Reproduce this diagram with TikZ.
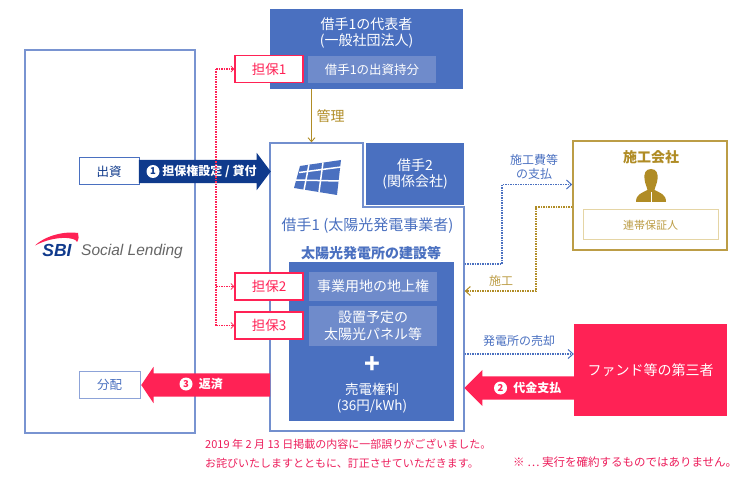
\documentclass[tikz,border=0pt]{standalone}
\usepackage{fontspec}
\setmainfont{Noto Sans CJK JP}
\newfontfamily\logofont{Liberation Sans}
\usepackage{tikz}
\usetikzlibrary{positioning,calc,arrows.meta,shapes.arrows}

\definecolor{bblue}{HTML}{4A70C0}
\definecolor{lblue}{HTML}{6F8BCB}
\definecolor{eblue}{HTML}{8DA3D8}
\definecolor{navy}{HTML}{0F3A8C}
\definecolor{rred}{HTML}{FF2255}
\definecolor{gold}{HTML}{B08C25}
\definecolor{lgold}{HTML}{E5D5A5}

\tikzset{
  fs/.code={\pgfmathsetmacro\fslead{#1*1.2}\tikzset{font=\fontsize{#1}{\fslead}\selectfont}},
  blk/.style={fill=bblue,text=white,inner sep=0pt},
  sub/.style={fill=lblue,text=white,inner sep=0pt,align=center,fs=14,minimum width=128},
  tanpo/.style={draw=rred,line width=1.2,fill=white,text=rred,inner sep=0pt,fs=13.5,minimum width=68,minimum height=27},
  small/.style={draw=bblue,line width=1,fill=white,inner sep=0pt,fs=12.5,minimum width=60,minimum height=27},
  barrow/.style={single arrow,inner xsep=0pt,inner ysep=11.5,anchor=tip},
  num/.style={circle,fill=white,inner sep=0pt,minimum size=13,font=\fontsize{9.5}{10}\selectfont\bfseries},
  lbl/.style={text=white,inner sep=0pt,font=\fontsize{12}{14}\selectfont\bfseries},
  note/.style={inner sep=0pt,anchor=west,text=rred!85!violet,fs=11},
  dotblue/.style={draw=bblue,line width=1.7,dash pattern=on 1.5pt off 1pt,-{Straight Barb[length=5pt,width=9pt,line width=1pt]}},
  dotgold/.style={draw=gold,line width=1.7,dash pattern=on 1.5pt off 1pt,-{Straight Barb[length=5pt,width=9pt,line width=1pt]}},
  dotred/.style={draw=rred,line width=1.2,dash pattern=on 1.5pt off 1pt,-{Straight Barb[length=3pt,width=6pt,line width=.8pt]}},
}

\begin{document}
\begin{tikzpicture}[x=1pt,y=-1pt]
\useasboundingbox (0,0) rectangle (749,478);

% lender
\node[draw=eblue!70!bblue,line width=1.3,minimum width=170,minimum height=383,inner sep=0pt] (sbi) at (110,241.5) {};
\fill[rred] (35,245.5) .. controls (46,235) and (66,231) .. (78,233) .. controls (79,236) and (79,239) .. (77,242)
  .. controls (76,237) and (55,235) .. (35,245.5) -- cycle;
\node[inner sep=0pt,text=navy,font=\logofont\fontsize{17.5}{18}\selectfont\bfseries\itshape] (sbitext) at (57,250) {SBI};
\node[inner sep=0pt,text=black!60,anchor=west,font=\logofont\fontsize{15.5}{18}\selectfont\itshape] (lending) at (81,251) {Social Lending};

% main borrower box and its notch
\node[draw=eblue!60!bblue,line width=1.3,fill=white,minimum width=194,minimum height=288,inner sep=0pt] (main) at (367,287) {};
\fill[white] (363.5,141) rectangle (466,206.5);
\draw[eblue!60!bblue,line width=1.3] (270,143) -- (363,143) -- (363,207) -- (464.7,207);

% top block
\node[blk,minimum width=193,minimum height=80] (rep) at (366.5,49) {};
\node[text=white,inner sep=0pt,align=center,fs=14] (reptext) at (366.5,33) {借手1の代表者\\(一般社団法人)};
\node[sub,fs=12.5,minimum height=27] (share) at (372,69.5) {借手1の出資持分};

\node[blk,align=center,fs=14,minimum width=98,minimum height=62] (second) at (415,174) {借手2\\(関係会社)};

% panel icon
\fill[bblue] (300,166) -- (341,160) -- (337,195) -- (294,188) -- cycle;
\foreach \a/\b in {{(299,172.5)/(341,167)},{(296,180)/(339,181)},{(309,164.5)/(304,190)},{(323,162.5)/(319,192)}}
\draw[white,line width=1.5] \a -- \b;

\node[text=bblue,inner sep=0pt,fs=15] (maintitle) at (367.5,226) {借手1 (太陽光発電事業者)};
\node[text=bblue,inner sep=0pt,font=\fontsize{14}{15}\selectfont\bfseries] (maintask) at (371,253) {太陽光発電所の建設等};

\node[blk,minimum width=165,minimum height=159] (assets) at (371.5,341.5) {};
\node[sub,minimum height=29] (land) at (373,286.5) {事業用地の地上権};
\node[sub,minimum height=40] (panel) at (373,326) {設置予定の\\太陽光パネル等};
\node[text=white,inner sep=0pt,font=\fontsize{26}{26}\selectfont\bfseries] (plus) at (372,365) {+};
\node[text=white,inner sep=0pt,align=center,fs=13.5] (feed) at (372,398.5) {売電権利\\(36円/kWh)};

% management
\coordinate (mgmt) at (311.5,116);
\draw[gold,line width=1.6,-{Straight Barb[length=4pt,width=7pt,line width=.9pt]}] (rep.south -| mgmt) -- (main.north -| mgmt);
\node[right=5pt of mgmt,inner sep=0pt,text=gold,fs=14] (mgmttext) {管理};

% big arrows
\node[small,text=navy] (invest) at (109,171.5) {出資};
\node[barrow,fill=navy,minimum height=132,single arrow head extend=7,single arrow tip angle=106] (arrow1) at (271,171.5) {};
\node[small,draw=eblue,text=bblue,minimum width=61] (dist) at (109.5,385) {分配};
\node[barrow,fill=rred,minimum height=129,single arrow head extend=6.5,single arrow tip angle=112,shape border rotate=180] (arrow3) at (141,385) {};
\node[barrow,fill=rred,minimum height=110,single arrow head extend=6.5,single arrow tip angle=90,shape border rotate=180] (arrow2) at (464,388) {};

\node[num,text=navy] (n1) at (153,171.5) {1};
\node[lbl,right=2.5pt of n1] (n1text) {担保権設定 / 貸付};
\node[num,text=rred] (n3) at (186,384) {3};
\node[lbl,right=6pt of n3] (n3text) {返済};
\node[num,text=rred] (n2) at (500.5,388) {2};
\node[lbl,right=6pt of n2] (n2text) {代金支払};

% collateral
\foreach \pos/\name/\disp in {{(269,69)/col1/担保1}, {(269,286.5)/col2/担保2}, {(269,325.5)/col3/担保3}}
\node[tanpo] (\name) at \pos {\disp};

\coordinate (colx) at (216,0);
\draw[rred,line width=1.2,dash pattern=on 1.5pt off 1pt] (colx |- col1) -- (colx |- col3);
\foreach \name in {col1, col2, col3}
\draw[dotred] (colx |- \name) -- (\name.west);

% contractor
\node[draw=gold!85!white,line width=1.6,fill=white,minimum width=154,minimum height=109,inner sep=0pt] (builder) at (650,195.5) {};
\node[text=gold,inner sep=0pt,font=\fontsize{14}{15}\selectfont\bfseries] (buildertext) at (651,157) {施工会社};
\fill[gold] (651,169) .. controls (645,169) and (644,174) .. (644.5,179) .. controls (645,184) and (647,187) .. (647.5,190)
  .. controls (642,193) and (636,194) .. (636,202) -- (666,202) .. controls (666,194) and (660,193) .. (654.5,190)
  .. controls (655,187) and (657,184) .. (657.5,179) .. controls (658,174) and (657,169) .. (651,169) -- cycle;
\draw[white,line width=.6] (651,192) -- (651,202);
\node[draw=lgold,line width=1,minimum width=135,minimum height=30,inner sep=0pt,text=gold!85!white,fs=11] (guar) at (650.5,225) {連帯保証人};

% fund
\node[fill=rred,text=white,minimum width=153,minimum height=92,inner sep=0pt,fs=14] (fund) at (650.5,370) {ファンド等の第三者};

% payment, work and sale flows
\coordinate (paybend) at (502,264);
\coordinate (paytop) at (502,184.5);
\draw[dotblue] (main.east |- paybend) -- (paybend) -- (paytop) -- (builder.west |- paytop);
\node[text=bblue,inner sep=0pt,align=center,fs=12] (paytext) at (534,167) {施工費等\\の支払};

\coordinate (worktop) at (536,207);
\coordinate (workbend) at (536,291);
\draw[dotgold] (builder.west |- worktop) -- (worktop) -- (workbend) -- (main.east |- workbend);
\node[text=gold!85!white,inner sep=0pt,fs=12] (worktext) at (501,281) {施工};

\coordinate (sale) at (500,354);
\draw[dotblue,line width=1.3] (main.east |- sale) -- (fund.west |- sale);
\node[text=bblue,inner sep=0pt,fs=12] (saletext) at (519,341) {発電所の売却};

% notes
\node[note] (note1) at (205,444) {2019 年 2 月 13 日掲載の内容に一部誤りがございました。};
\node[note] (note2) at (205,463) {お詫びいたしますとともに、訂正させていただきます。};
\node[note,fs=11.5] (note3) at (513,462) {※ {\addfontfeature{CharacterWidth=Full}…} 実行を確約するものではありません。};

\end{tikzpicture}
\end{document}
